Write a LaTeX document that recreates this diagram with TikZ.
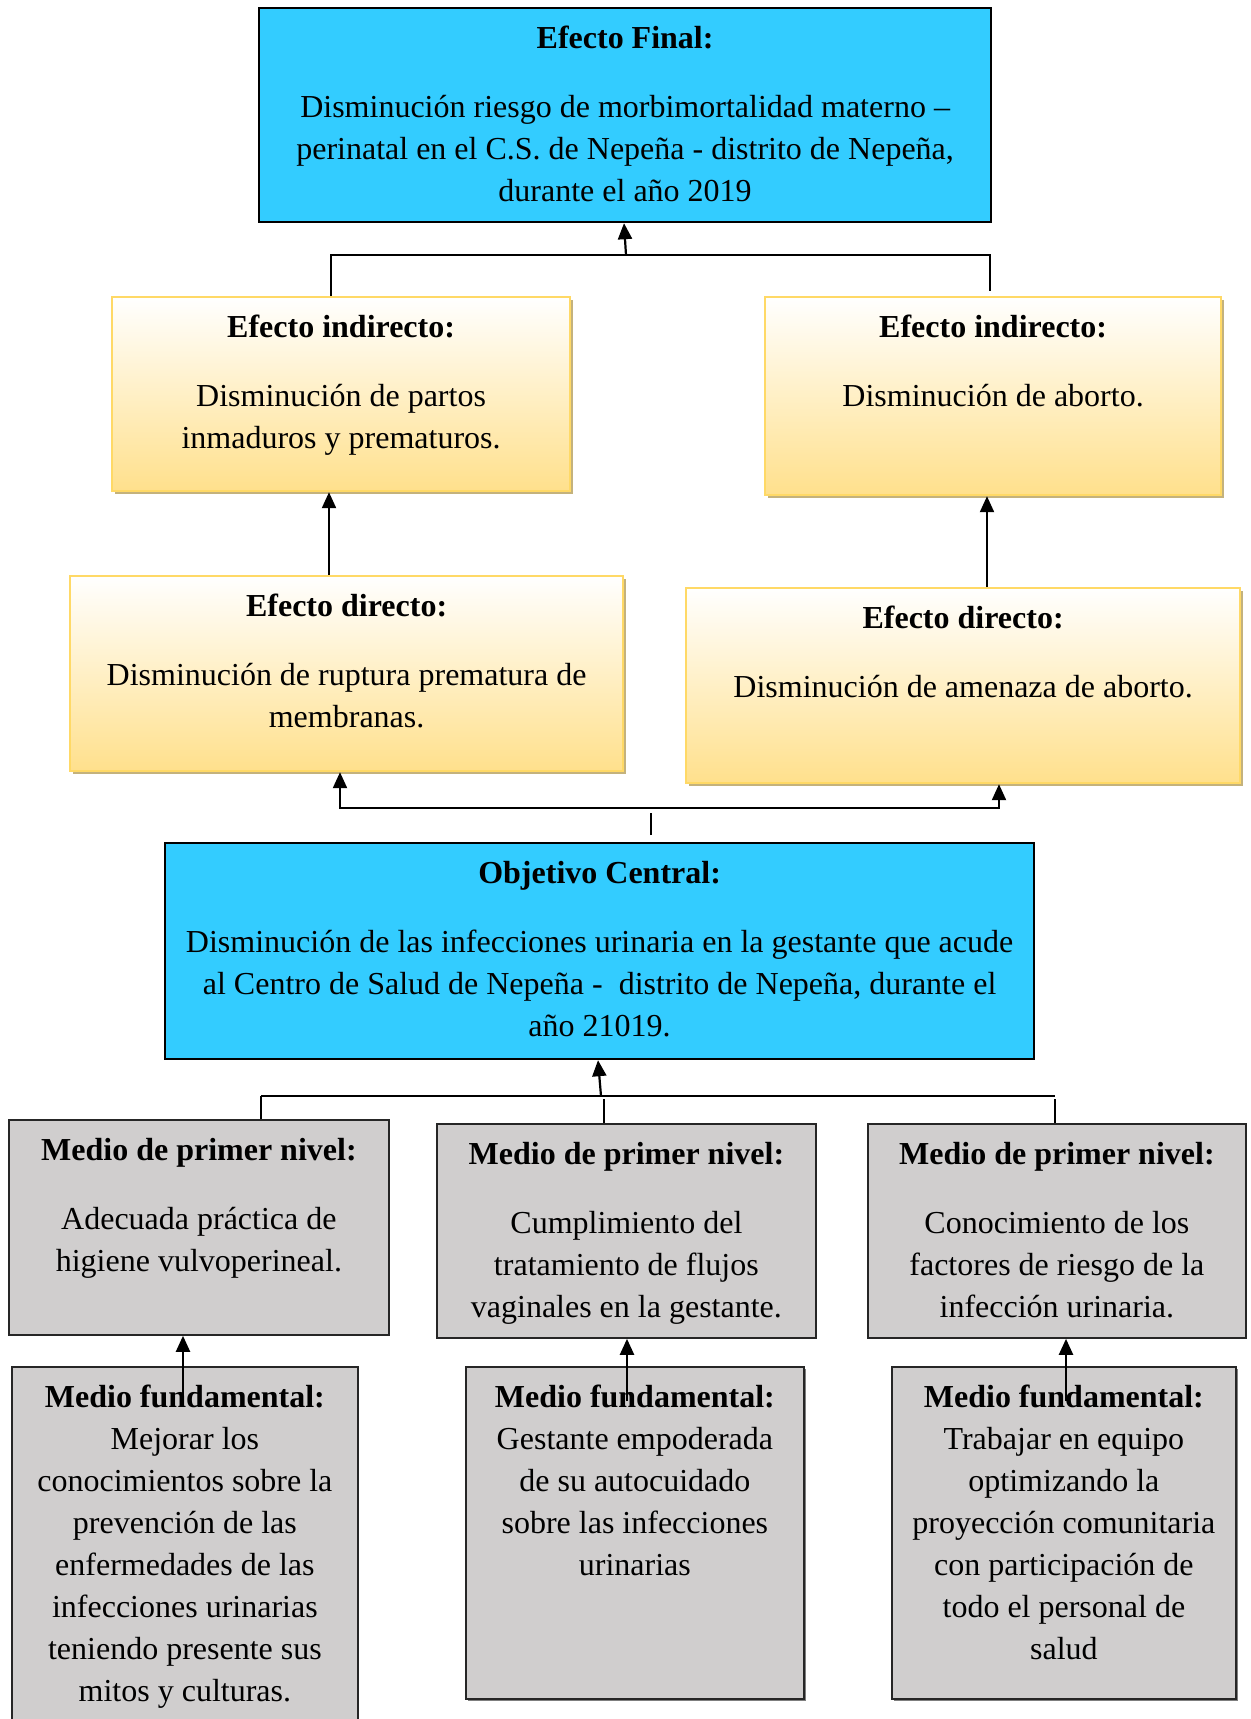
\documentclass[tikz,border=0pt]{standalone}
\usepackage{fontspec}
\setmainfont{Liberation Serif}
\usetikzlibrary{shadows,arrows.meta}
\definecolor{cyanbox}{HTML}{33CCFF}
\definecolor{ybord}{HTML}{FFD966}
\definecolor{ybot}{HTML}{FFE08C}
\definecolor{ysh}{HTML}{C4B27C}
\definecolor{gbox}{HTML}{D0CECE}
\definecolor{gsh}{HTML}{7F7F7F}
\begin{document}
\begin{tikzpicture}[x=0.5pt,y=-0.5pt,
  boxc/.style={draw=black, line width=1.1pt, fill=cyanbox, rectangle, inner sep=0, anchor=north west},
  boxy/.style={draw=ybord, line width=1.1pt, top color=white, bottom color=ybot, rectangle, inner sep=0, anchor=north west,
     drop shadow={shadow xshift=1.6pt, shadow yshift=-1.6pt, fill=ysh, opacity=1}},
  boxg/.style={draw=black!85, line width=0.9pt, fill=gbox, rectangle, inner sep=0, anchor=north west},
  boxgs/.style={boxg, drop shadow={shadow xshift=1.2pt, shadow yshift=-1.2pt, fill=gsh, opacity=1}},
  txt/.style={align=center, inner sep=0, anchor=north, font=\fontsize{16}{21}\selectfont},
  ln/.style={line width=0.7pt, black},
  arr/.style={line width=1.1pt, black, -{Triangle[width=7pt,length=8pt]}}
]
\useasboundingbox (0,0) rectangle (1251,1719);

% boxes
\node[boxc, minimum width=366pt, minimum height=107pt] (F) at (258,7) {};
\node[boxy, minimum width=229pt, minimum height=97pt] (IL) at (111,296) {};
\node[boxy, minimum width=228pt, minimum height=99pt] (IR) at (764,296) {};
\node[boxy, minimum width=276.5pt, minimum height=97.5pt] (DL) at (69,575) {};
\node[boxy, minimum width=277pt, minimum height=97.5pt] (DR) at (685,587) {};
\node[boxc, minimum width=434.5pt, minimum height=108pt] (O) at (164,842) {};
\node[boxg, minimum width=190pt, minimum height=107.5pt] (ML) at (8,1119) {};
\node[boxg, minimum width=189.5pt, minimum height=107pt] (MM) at (436,1123) {};
\node[boxg, minimum width=189pt, minimum height=107pt] (MR) at (867,1123) {};
\node[boxg, minimum width=173pt, minimum height=185pt] (FL) at (11,1366) {};
\node[boxgs, minimum width=169pt, minimum height=166pt] (FM) at (465,1366) {};
\node[boxgs, minimum width=172pt, minimum height=166pt] (FR) at (891,1366) {};

% texts
\node[txt] (tF) at ([yshift=-9.5pt]F.north) {\textbf{Efecto Final:}\\[13.5pt]Disminución riesgo de morbimortalidad materno –\\perinatal en el C.S. de Nepeña - distrito de Nepeña,\\durante el año 2019};
\node[txt] (tIL) at ([yshift=-9.5pt]IL.north) {\textbf{Efecto indirecto:}\\[13.5pt]Disminución de partos\\inmaduros y prematuros.};
\node[txt] (tIR) at ([yshift=-9.5pt]IR.north) {\textbf{Efecto indirecto:}\\[13.5pt]Disminución de aborto.};
\node[txt] (tDL) at ([yshift=-9.5pt]DL.north) {\textbf{Efecto directo:}\\[13.5pt]Disminución de ruptura prematura de\\membranas.};
\node[txt] (tDR) at ([yshift=-9.5pt]DR.north) {\textbf{Efecto directo:}\\[13.5pt]Disminución de amenaza de aborto.};
\node[txt] (tO) at ([yshift=-9.5pt]O.north) {\textbf{Objetivo Central:}\\[13.5pt]Disminución de las infecciones urinaria en la gestante que acude\\al Centro de Salud de Nepeña -\ \ distrito de Nepeña, durante el\\año 21019.};
\node[txt] (tML) at ([yshift=-9.5pt]ML.north) {\textbf{Medio de primer nivel:}\\[13.5pt]Adecuada práctica de\\higiene vulvoperineal.};
\node[txt] (tMM) at ([yshift=-9.5pt]MM.north) {\textbf{Medio de primer nivel:}\\[13.5pt]Cumplimiento del\\tratamiento de flujos\\vaginales en la gestante.};
\node[txt] (tMR) at ([yshift=-9.5pt]MR.north) {\textbf{Medio de primer nivel:}\\[13.5pt]Conocimiento de los\\factores de riesgo de la\\infección urinaria.};
\node[txt] (tFL) at ([yshift=-9.5pt]FL.north) {\textbf{Medio fundamental:}\\Mejorar los\\conocimientos sobre la\\prevención de las\\enfermedades de las\\infecciones urinarias\\teniendo presente sus\\mitos y culturas.};
\node[txt] (tFM) at ([yshift=-9.5pt]FM.north) {\textbf{Medio fundamental:}\\Gestante empoderada\\de su autocuidado\\sobre las infecciones\\urinarias};
\node[txt] (tFR) at ([yshift=-9.5pt]FR.north) {\textbf{Medio fundamental:}\\Trabajar en equipo\\optimizando la\\proyección comunitaria\\con participación de\\todo el personal de\\salud};

% connector coordinates
\coordinate (barA) at (626,255);
\coordinate (barB) at (651,808);
\coordinate (barC) at (601,1096);

% top bracket
\draw[ln] (IL.north -| 331,0) -- (331,255) -- (990,255) -- (990,291);
\draw[arr] (barA) -- (F.south -| 624,0);
% indirect <- direct
\draw[arr] (DL.north -| 329,0) -- (IL.south -| 329,0);
\draw[arr] (DR.north -| 987,0) -- (IR.south -| 987,0);
% objective bracket
\draw[ln, line width=0.9pt] (340,808) -- (999,808);
\draw[arr] (340,809) -- (DL.south -| 340,0);
\draw[arr] (999,809) -- (DR.south -| 999,0);
\draw[ln] (O.north -| barB) ++(0,-7) -- (651,813);
% bottom bracket
\draw[ln, line width=0.9pt] (261,1096) -- (1055,1096) ;
\draw[ln, line width=0.9pt] (261,1096) -- (ML.north -| 261,0);
\draw[ln] (604,1099) -- (MM.north -| 604,0);
\draw[ln] (1055,1099) -- (MR.north -| 1055,0);
\draw[arr] (barC) -- (O.south -| 598,0);
% fundamental -> first level
\draw[arr] (183,1401) -- (ML.south -| 183,0);
\draw[arr] (627,1401) -- (MM.south -| 627,0);
\draw[arr] (1066,1401) -- (MR.south -| 1066,0);
\end{tikzpicture}
\end{document}
